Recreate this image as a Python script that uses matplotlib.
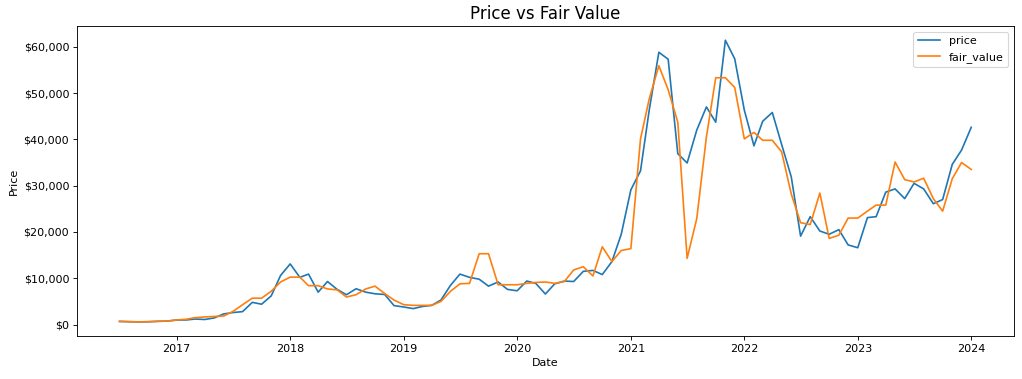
import matplotlib
matplotlib.use('Agg')
import matplotlib.pyplot as plt
import matplotlib.ticker as mticker
import pandas as pd

# monthly observations, first of month, 2016-07 .. 2024-01
dates = pd.date_range('2016-07-01', '2024-01-01', freq='MS')

price = [
    680, 620, 580, 610, 700, 750, 980, 1000, 1200, 1100, 1430, 2300,
    2600, 2800, 4800, 4400, 6200, 10600, 13100, 10200, 10900, 7000, 9300, 7600,
    6450, 7740, 7000, 6650, 6500, 4100, 3800, 3450, 3900, 4150, 5300, 8500,
    10900, 10200, 9800, 8300, 9200, 7600, 7300, 9400, 8900, 6600, 8800, 9400,
    9300, 11500, 11700, 10800, 13600, 19500, 29100, 33200, 46300, 58800, 57300, 36900,
    34900, 42000, 47000, 43700, 61400, 57400, 46300, 38600, 43900, 45800, 38900, 31900,
    19100, 23300, 20200, 19500, 20500, 17200, 16600, 23100, 23300, 28600, 29300, 27200,
    30500, 29300, 26100, 27000, 34600, 37700, 42600,
]

fair_value = [
    700, 640, 600, 630, 710, 760, 1000, 1150, 1500, 1650, 1750, 1850,
    2850, 4300, 5700, 5700, 7200, 9200, 10250, 10250, 8400, 8400, 7700, 7500,
    5950, 6450, 7700, 8300, 6700, 5300, 4300, 4150, 4150, 4150, 5000, 7200,
    8800, 8900, 15300, 15300, 8600, 8600, 8600, 8900, 9100, 9200, 8900, 9300,
    11800, 12500, 10500, 16800, 13600, 16000, 16400, 40100, 48700, 55900, 50700, 43700,
    14300, 22900, 40500, 53300, 53300, 51200, 40100, 41500, 39800, 39800, 37300, 28200,
    22000, 21600, 28400, 18600, 19300, 23000, 23000, 24500, 25800, 25800, 35100, 31300,
    30800, 31600, 27200, 24500, 31500, 35000, 33500,
]


def plot_figure(output_file):
    # drawn at 80 dpi so the default text sizes come out small, as in the original
    fig, ax = plt.subplots(figsize=(12.775, 4.7375), dpi=80)
    ax.plot(dates, price, label='price')
    ax.plot(dates, fair_value, label='fair_value')
    ax.set_title('Price vs Fair Value', fontsize=15)
    ax.set_xlabel('Date')
    ax.set_ylabel('Price')
    ax.yaxis.set_major_formatter(mticker.StrMethodFormatter('${x:,.0f}'))
    ax.legend(loc='upper right')
    fig.subplots_adjust(left=0.0753, right=0.992, top=0.931, bottom=0.1135)
    fig.savefig(output_file, dpi=80)
    plt.close(fig)


if __name__ == "__main__":
    plot_figure('out.png')
